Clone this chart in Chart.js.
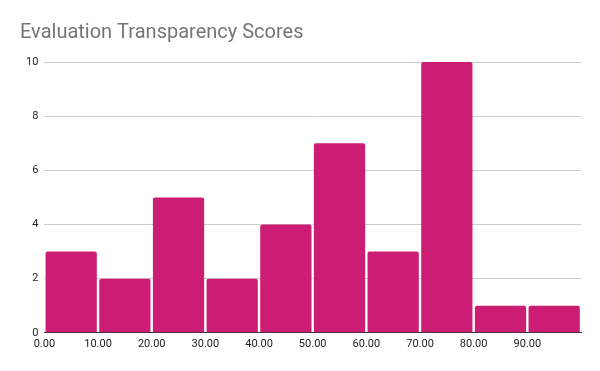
<!DOCTYPE html>
<html>
<head>
<meta charset="utf-8">
<script src="https://cdn.jsdelivr.net/npm/chart.js@4/dist/chart.umd.min.js"></script>
<style>
html,body{margin:0;padding:0;background:#fff;}
#wrap{width:600px;height:371px;}
</style>
</head>
<body>
<div id="wrap"><canvas id="c" width="600" height="371"></canvas></div>
<script>
const title = "Evaluation Transparency Scores";
const binCenters = [5, 15, 25, 35, 45, 55, 65, 75, 85, 95];
const counts = [3, 2, 5, 2, 4, 7, 3, 10, 1, 1];
const xTickValues = [0, 10, 20, 30, 40, 50, 60, 70, 80, 90];
const yTickValues = [0, 2, 4, 6, 8, 10];

const data = binCenters.map((x, i) => ({x: x, y: counts[i]}));

new Chart(document.getElementById('c'), {
  type: 'bar',
  data: {
    datasets: [{
      data: data,
      backgroundColor: '#cd1c74',
      borderWidth: 0,
      borderRadius: {topLeft: 2, topRight: 2, bottomLeft: 0, bottomRight: 0},
      borderSkipped: 'bottom',
      barPercentage: 1,
      categoryPercentage: 0.955
    }]
  },
  options: {
    responsive: false,
    animation: false,
    devicePixelRatio: 1,
    layout: {padding: {left: 20, right: 19, top: 0, bottom: 15}},
    plugins: {
      legend: {display: false},
      tooltip: {enabled: false},
      title: {
        display: true,
        text: title,
        align: 'start',
        color: '#757575',
        font: {family: 'Roboto', size: 20, weight: 'normal'},
        padding: {top: 21, bottom: 17}
      }
    },
    scales: {
      x: {
        type: 'linear',
        min: 0,
        max: 100,
        offset: false,
        afterBuildTicks: (axis) => { axis.ticks = xTickValues.map(v => ({value: v})); },
        ticks: {
          color: '#222',
          font: {family: 'Roboto', size: 11},
          padding: 5,
          maxRotation: 0,
          autoSkip: false,
          callback: (v) => Number(v).toFixed(2)
        },
        grid: {display: false, drawTicks: false},
        border: {display: true, color: '#333', width: 1}
      },
      y: {
        min: 0,
        max: 10,
        afterBuildTicks: (axis) => { axis.ticks = yTickValues.map(v => ({value: v})); },
        ticks: {
          color: '#222',
          font: {family: 'Roboto', size: 11},
          padding: 6
        },
        grid: {color: '#cccccc', drawTicks: false, lineWidth: 1},
        border: {display: false}
      }
    }
  }
});
</script>
</body>
</html>
